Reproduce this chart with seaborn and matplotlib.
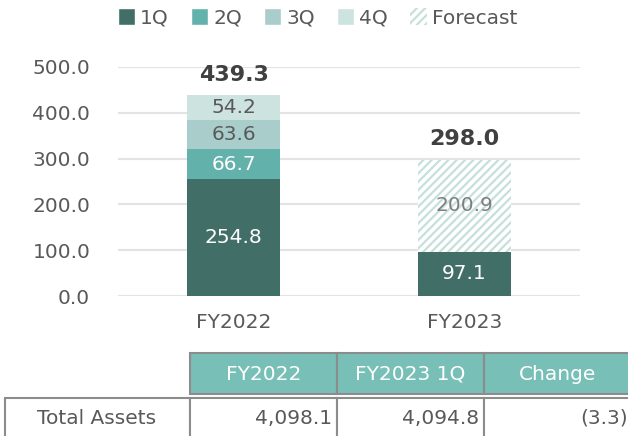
import numpy as np
import pandas as pd
import seaborn as sns
import matplotlib
matplotlib.use("Agg")
from matplotlib import pyplot as plt
from matplotlib.patches import Patch, Rectangle

# chart data
years = ["FY2022", "FY2023"]
q1 = [254.8, 97.1]
q2 = [66.7, 0]
q3 = [63.6, 0]
q4 = [54.2, 0]
forecast = [0, 200.9]
totals = [439.3, 298.0]
yticks = [0, 100, 200, 300, 400, 500]

# table data
tbl_header = ["FY2022", "FY2023 1Q", "Change"]
tbl_rowlabel = "Total Assets"
tbl_values = ["4,098.1", "4,094.8", "(3.3)"]

sns.set_theme(style="white")
plt.rcParams['font.family'] = ['DejaVu Sans']
plt.rcParams['hatch.linewidth'] = 1.6

c1, c2, c3, c4 = "#426e68", "#63b1ab", "#a9cdca", "#cde3e0"
hatch_c = "#c6e0dc"
txt = "#595959"
fs = 14.5

fig = plt.figure(figsize=(6.28, 4.36), dpi=100)
W, H = 628, 436
ax = fig.add_axes([118 / W, 1 - 296 / H, 462 / W, 229 / H])

df = pd.DataFrame({"year": years, "q1": q1, "q2": q2, "q3": q3, "q4": q4, "fc": forecast})
bottom = np.zeros(len(years))
segs = [("q1", c1, "white"), ("q2", c2, "white"), ("q3", c3, txt), ("q4", c4, txt)]
for col, color, tcol in segs:
    sns.barplot(data=df, x="year", y=col, bottom=bottom, color=color, width=0.4,
                saturation=1, linewidth=0, ax=ax)
    for i, v in enumerate(df[col]):
        if v > 0:
            ax.text(i, bottom[i] + v / 2, f"{v:.1f}", ha="center", va="center",
                    fontsize=fs, color=tcol)
    bottom = bottom + df[col].values

# forecast (hatched)
for i, v in enumerate(df["fc"]):
    if v > 0:
        ax.bar(i, v, bottom=bottom[i], width=0.4, facecolor="white",
               edgecolor=hatch_c, hatch="////", linewidth=0)
        ax.text(i, bottom[i] + v / 2, f"{v:.1f}", ha="center", va="center",
                fontsize=fs, color="#7f7f7f")

for i, t in enumerate(totals):
    ax.text(i, t + 22, f"{t:.1f}", ha="center", va="bottom", fontsize=16,
            fontweight="bold", color="#404040", clip_on=False)

ax.set_xlim(-0.5, 1.5)
ax.set_ylim(0, 500)
ax.set_yticks(yticks)
ax.set_yticklabels([f"{v:.1f}" for v in yticks], fontsize=fs, color=txt)
ax.tick_params(axis="x", labelsize=fs, labelcolor=txt, pad=12, length=0)
ax.tick_params(axis="y", pad=20, length=0)
ax.set_xlabel("")
ax.set_ylabel("")
ax.yaxis.grid(True, color="#e3e3e3", linewidth=1.5)
ax.set_axisbelow(True)
for s in ax.spines.values():
    s.set_visible(False)

handles = [Patch(facecolor=c1), Patch(facecolor=c2), Patch(facecolor=c3), Patch(facecolor=c4),
           Patch(facecolor="white", edgecolor=hatch_c, hatch="////", linewidth=0)]
fig.legend(handles, ["1Q", "2Q", "3Q", "4Q", "Forecast"], ncol=5, frameon=False,
           loc="center left", bbox_to_anchor=(118 / W, 1 - 18 / H), fontsize=fs,
           handlelength=0.85, handleheight=0.85, handletextpad=0.25, columnspacing=1.1,
           labelcolor=txt, borderaxespad=0, borderpad=0)

# table drawn in pixel space
tax = fig.add_axes([0, 0, 1, 1])
tax.set_xlim(0, W)
tax.set_ylim(H, 0)
tax.axis("off")
edge = "#8c8c8c"
cols = [190, 337, 484, 631]
for j, h in enumerate(tbl_header):
    tax.add_patch(Rectangle((cols[j], 353), cols[j + 1] - cols[j], 41, facecolor="#78bfb8",
                            edgecolor=edge, linewidth=1.5))
    tax.text((cols[j] + cols[j + 1]) / 2, 374, h, ha="center", va="center",
             fontsize=fs, color="white")
tax.add_patch(Rectangle((5, 398), 185, 45, facecolor="white", edgecolor=edge, linewidth=1.5))
tax.text(97, 418, tbl_rowlabel, ha="center", va="center", fontsize=fs, color=txt)
for j, v in enumerate(tbl_values):
    tax.add_patch(Rectangle((cols[j], 398), cols[j + 1] - cols[j], 45, facecolor="white",
                            edgecolor=edge, linewidth=1.5))
    tax.text(cols[j + 1] - 5 if j < 2 else cols[j + 1] - 3, 418, v, ha="right", va="center",
             fontsize=fs, color=txt)

fig.savefig("out.png", dpi=100)
